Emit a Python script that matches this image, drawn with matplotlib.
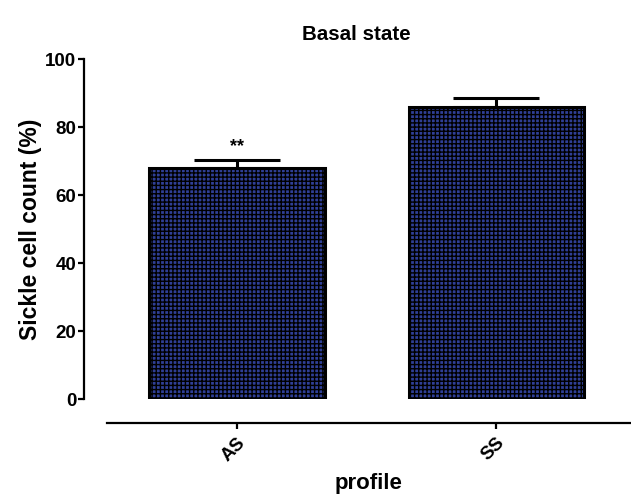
import numpy as np
import matplotlib.pyplot as plt

plt.rcParams["font.family"] = ["Liberation Sans", "DejaVu Sans"]
plt.rcParams["font.weight"] = "bold"
plt.rcParams["hatch.linewidth"] = 1.0

# Data
profiles = ["AS", "SS"]
means = [68.0, 85.8]
errors = [2.4, 2.8]
significance = ["**", ""]

W, H = 631, 499
fig = plt.figure(figsize=(W/100, H/100), dpi=100)
ax = fig.add_axes([107/W, (H - 399)/H, 524/W, 340/H])

x = np.arange(len(profiles))
ax.bar(x, means, width=0.676, color="#2f3f96", edgecolor="black",
       linewidth=2.2, hatch="++++", zorder=2)
ax.errorbar(x, means, yerr=[np.zeros(len(errors)), errors], fmt="none",
            ecolor="black", elinewidth=2.2, capsize=31, capthick=2.2, zorder=1)
for xi, m, e, s in zip(x, means, errors, significance):
    ax.text(xi, m + e + 1.2, s, ha="center", va="bottom", fontsize=13)

ax.set_xlim(-0.502, 1.521)
ax.set_ylim(0, 100)
ax.set_yticks([0, 20, 40, 60, 80, 100])
ax.set_xticks(x)
ax.set_xticklabels(profiles)

for side in ["top", "right"]:
    ax.spines[side].set_visible(False)
ax.spines["left"].set_position(("outward", 16.6))
ax.spines["bottom"].set_position(("outward", 17.3))
ax.spines["left"].set_linewidth(1.6)
ax.spines["bottom"].set_linewidth(1.6)
ax.tick_params(axis="both", labelsize=13.5, width=1.6, length=4.5)
ax.tick_params(axis="y", pad=1)
for lbl in ax.get_xticklabels():
    lbl.set_rotation(45)
    lbl.set_ha("right")
    lbl.set_va("top")
    lbl.set_rotation_mode("anchor")

ax.set_ylabel("Sickle cell count (%)", fontsize=16.5, fontweight="bold",
              labelpad=2)
ax.set_xlabel("profile", fontsize=16, fontweight="bold", labelpad=6)
ax.set_title("Basal state", fontsize=14.8, fontweight="bold", pad=14, x=0.475)

fig.savefig("out.png", dpi=100)
